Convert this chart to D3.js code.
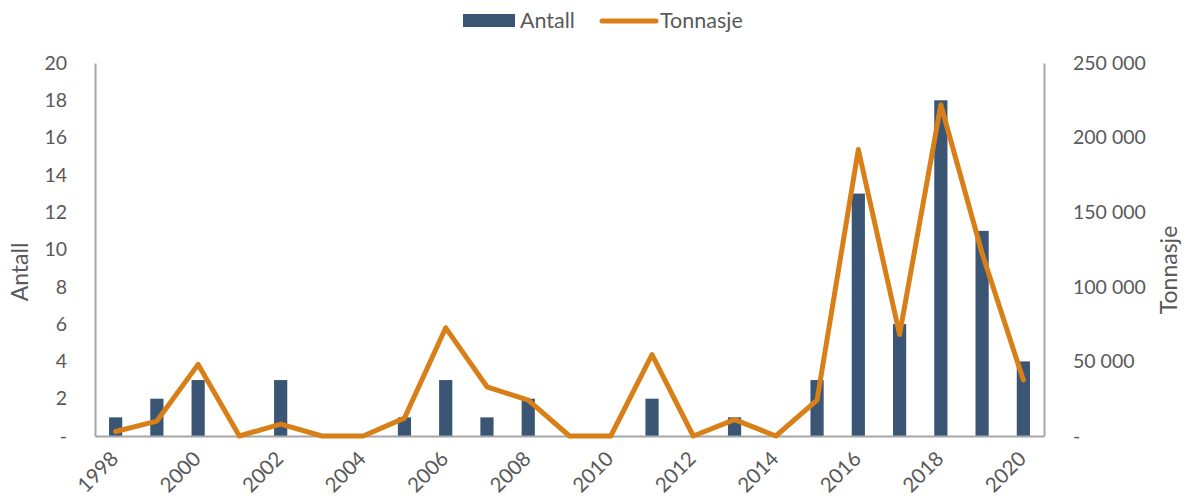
<!DOCTYPE html>
<html>
<head>
<meta charset="utf-8">
<script src="https://cdn.jsdelivr.net/npm/d3@7"></script>
<style>
  body { margin: 0; background: #fff; }
  text { font-family: Lato, "Open Sans", sans-serif; fill: #595959; }
</style>
</head>
<body>
<div id="chart"></div>
<script>
const years = ['1998','1999','2000','2001','2002','2003','2004','2005','2006','2007','2008','2009','2010','2011','2012','2013','2014','2015','2016','2017','2018','2019','2020'];
const antall = [1, 2, 3, 0, 3, 0, 0, 1, 3, 1, 2, 0, 0, 2, 0, 1, 0, 3, 13, 6, 18, 11, 4];
const tonnasje = [3000, 10000, 48000, 0, 8000, 0, 0, 12000, 72500, 33000, 24000, 0, 0, 54500, 0, 11000, 0, 24000, 192000, 68000, 222000, 122500, 37500];
const leftTicks = [0, 2, 4, 6, 8, 10, 12, 14, 16, 18, 20];
const rightTicks = [0, 50000, 100000, 150000, 200000, 250000];

const width = 1189, height = 501;
const plotLeft = 95, plotRight = 1044, plotTop = 63, plotBottom = 436;

const svg = d3.select('#chart').append('svg')
    .attr('width', width)
    .attr('height', height);

const x = d3.scaleBand()
    .domain(years)
    .range([plotLeft, plotRight])
    .paddingInner(0.68)
    .paddingOuter(0.34);

const yLeft = d3.scaleLinear().domain([0, 20]).range([plotBottom, plotTop]);
const yRight = d3.scaleLinear().domain([0, 250000]).range([plotBottom, plotTop]);

const fmtRight = v => v === 0 ? '-' : d3.format(',')(v).replace(/,/g, ' ');
const fmtLeft = v => v === 0 ? '-' : String(v);

// left axis
const gl = svg.append('g')
    .attr('transform', `translate(${plotLeft},0)`)
    .call(d3.axisLeft(yLeft).tickValues(leftTicks).tickFormat(fmtLeft).tickSize(0).tickPadding(28));
gl.select('.domain').attr('stroke', '#a6a6a6').attr('stroke-width', 2);
gl.selectAll('text').attr('font-size', 19.5).attr('fill', '#595959').style('font-family', 'Lato, sans-serif');

// right axis
const gr = svg.append('g')
    .attr('transform', `translate(${plotRight},0)`)
    .call(d3.axisRight(yRight).tickValues(rightTicks).tickFormat(fmtRight).tickSize(0).tickPadding(29));
gr.select('.domain').attr('stroke', '#a6a6a6').attr('stroke-width', 2);
gr.selectAll('text').attr('font-size', 19.5).attr('fill', '#595959').style('font-family', 'Lato, sans-serif');

// bars
svg.append('g').selectAll('rect')
    .data(years)
    .enter()
    .append('rect')
    .attr('x', d => x(d))
    .attr('width', x.bandwidth())
    .attr('y', (d, i) => yLeft(antall[i]))
    .attr('height', (d, i) => plotBottom - yLeft(antall[i]))
    .attr('fill', '#3b5674');

// bottom axis
const gx = svg.append('g')
    .attr('transform', `translate(0,${plotBottom})`)
    .call(d3.axisBottom(x).tickValues(years.filter((d, i) => i % 2 === 0)).tickSize(0).tickPadding(0));
gx.select('.domain').attr('stroke', '#a6a6a6').attr('stroke-width', 2);
gx.selectAll('text')
    .attr('font-size', 20.5)
    .attr('fill', '#595959')
    .style('font-family', 'Lato, sans-serif')
    .attr('text-anchor', 'end')
    .attr('dy', 0)
    .attr('transform', 'translate(4,24) rotate(-45)');

// line
const line = d3.line()
    .x((d, i) => x(years[i]) + x.bandwidth() / 2)
    .y(d => yRight(d));

svg.append('path')
    .datum(tonnasje)
    .attr('d', line)
    .attr('fill', 'none')
    .attr('stroke', '#d97f17')
    .attr('stroke-width', 5)
    .attr('stroke-linejoin', 'round')
    .attr('stroke-linecap', 'round');

// axis titles
svg.append('text')
    .attr('transform', 'translate(28,272) rotate(-90)')
    .attr('text-anchor', 'middle')
    .attr('font-size', 23)
    .text('Antall');

svg.append('text')
    .attr('transform', 'translate(1177,270) rotate(-90)')
    .attr('text-anchor', 'middle')
    .attr('font-size', 23)
    .text('Tonnasje');

// legend
const legend = svg.append('g');
legend.append('rect')
    .attr('x', 463).attr('y', 14).attr('width', 52).attr('height', 13)
    .attr('fill', '#3b5674');
legend.append('text')
    .attr('x', 520).attr('y', 28)
    .attr('font-size', 21.5)
    .text('Antall');
legend.append('line')
    .attr('x1', 602).attr('x2', 656).attr('y1', 21).attr('y2', 21)
    .attr('stroke', '#d97f17').attr('stroke-width', 5).attr('stroke-linecap', 'round');
legend.append('text')
    .attr('x', 660).attr('y', 28)
    .attr('font-size', 21.5)
    .text('Tonnasje');
</script>
</body>
</html>
